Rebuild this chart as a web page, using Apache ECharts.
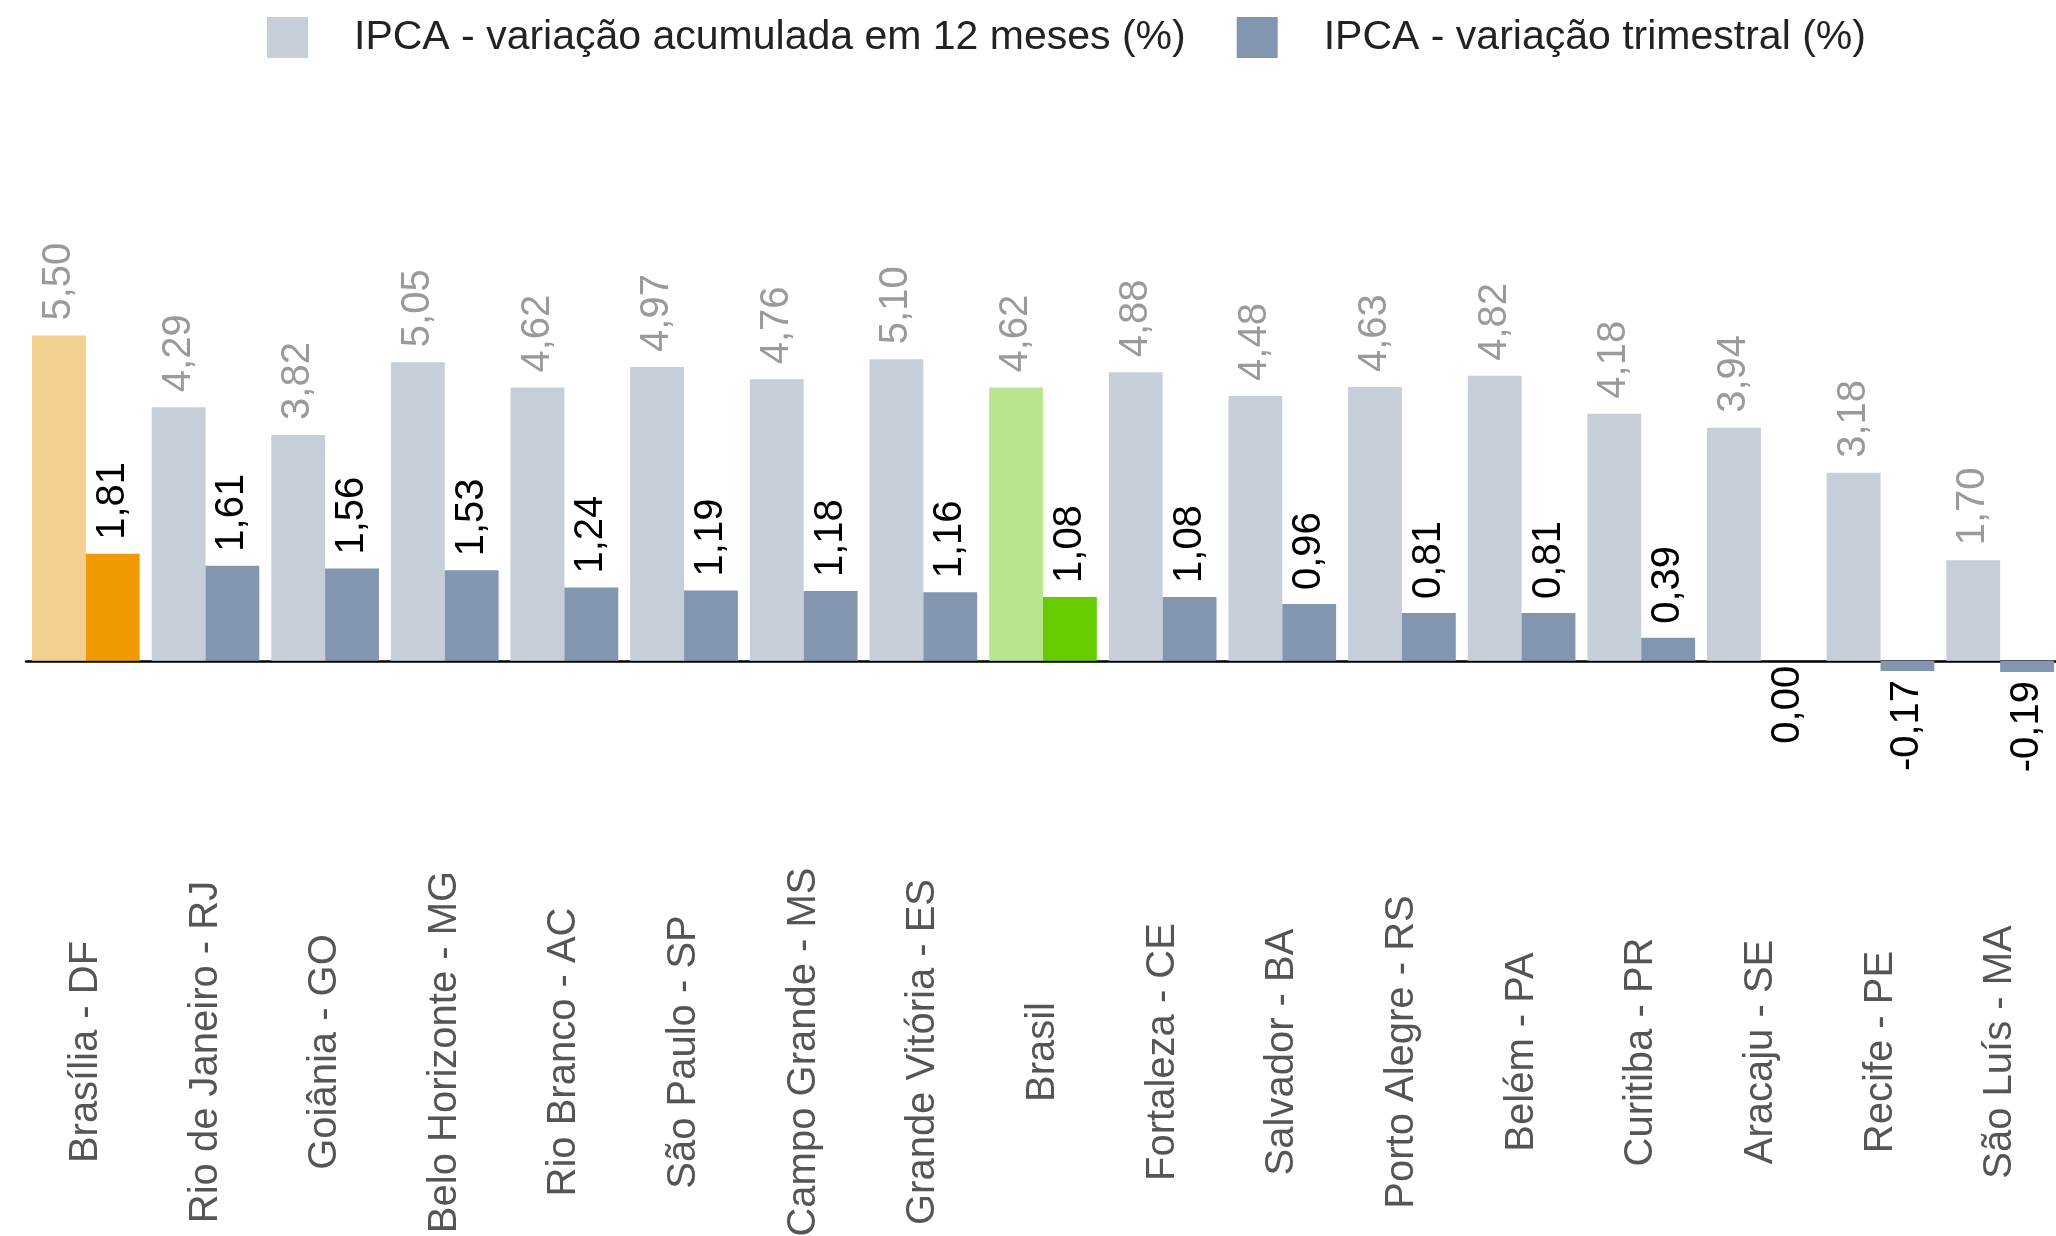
<!DOCTYPE html>
<html>
<head>
<meta charset="utf-8">
<script src="https://cdn.jsdelivr.net/npm/echarts@6/dist/echarts.min.js"></script>
<style>
  html, body { margin: 0; padding: 0; background: #fff; }
  #chart { width: 2056px; height: 1236px; }
</style>
</head>
<body>
<div id="chart"></div>
<script>
const cities = [
    'Brasília - DF', 'Rio de Janeiro - RJ', 'Goiânia - GO', 'Belo Horizonte - MG',
    'Rio Branco - AC', 'São Paulo - SP', 'Campo Grande - MS', 'Grande Vitória - ES',
    'Brasil', 'Fortaleza - CE', 'Salvador - BA', 'Porto Alegre - RS',
    'Belém - PA', 'Curitiba - PR', 'Aracaju - SE', 'Recife - PE', 'São Luís - MA'
];
const acum12 = [5.50, 4.29, 3.82, 5.05, 4.62, 4.97, 4.76, 5.10, 4.62, 4.88, 4.48, 4.63, 4.82, 4.18, 3.94, 3.18, 1.70];
const trimestral = [1.81, 1.61, 1.56, 1.53, 1.24, 1.19, 1.18, 1.16, 1.08, 1.08, 0.96, 0.81, 0.81, 0.39, 0.00, -0.17, -0.19];
const seriesNames = ['IPCA - variação acumulada em 12 meses (%)', 'IPCA - variação trimestral (%)'];

const fmt = v => v.toFixed(2).replace('.', ',');

// highlighted categories
const highlight = {
    'Brasília - DF': ['#f5cf8f', '#ee9a00'],
    'Brasil': ['#b9e58e', '#66cc00'],
};

function buildData(values, idx) {
    return values.map((v, i) => {
        const item = { value: v };
        const hl = highlight[cities[i]];
        if (hl) item.itemStyle = { color: hl[idx] };
        if (v <= 0) {
            item.label = {
                position: 'bottom',
                align: 'right',
                distance: v < 0 ? 9 : 5,
            };
        }
        return item;
    });
}

const labelBase = {
    show: true,
    position: 'top',
    rotate: 90,
    align: 'left',
    verticalAlign: 'middle',
    fontFamily: 'Liberation Sans, Arial, sans-serif',
    fontSize: 40,
    formatter: p => fmt(p.value),
};

const chart = echarts.init(document.getElementById('chart'));

chart.setOption({
    animation: false,
    legend: {
        left: 267,
        top: 17,
        padding: 0,
        itemWidth: 41,
        itemHeight: 41,
        itemGap: 51,
        icon: 'rect',
        textStyle: {
            fontFamily: 'Liberation Sans, Arial, sans-serif',
            fontSize: 41,
            color: '#222',
            padding: [6, 0, 0, 41],
        },
        data: seriesNames,
    },
    grid: {
        left: 26,
        top: 306,
        width: 2034,
        height: 414,
        outerBoundsMode: 'none',
        containLabel: false,
    },
    xAxis: {
        type: 'category',
        data: cities,
        axisLine: {
            onZero: true,
            lineStyle: { color: '#000', width: 2.5 },
        },
        axisTick: { show: false },
        axisLabel: {
            interval: 0,
            rotate: 90,
            align: 'center',
            verticalAlign: 'middle',
            margin: 332,
            color: '#555',
            fontFamily: 'Liberation Sans, Arial, sans-serif',
            fontSize: 40,
        },
    },
    yAxis: {
        type: 'value',
        min: -1,
        max: 6,
        show: false,
        splitLine: { show: false },
    },
    series: [
        {
            name: seriesNames[0],
            type: 'bar',
            barGap: 0,
            barCategoryGap: '10%',
            itemStyle: { color: '#c6ceda' },
            label: Object.assign({}, labelBase, { color: '#9a9a9a', distance: 15 }),
            data: buildData(acum12, 0),
        },
        {
            name: seriesNames[1],
            type: 'bar',
            barGap: 0,
            barCategoryGap: '10%',
            itemStyle: { color: '#8396b0' },
            label: Object.assign({}, labelBase, { color: '#000', distance: 14 }),
            data: buildData(trimestral, 1),
        },
    ],
});
</script>
</body>
</html>
